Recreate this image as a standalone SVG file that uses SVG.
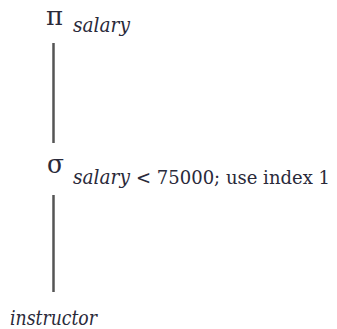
<svg xmlns="http://www.w3.org/2000/svg" width="337" height="329" viewBox="0 0 337 329">
<style>
text{font-family:"DejaVu Serif",serif;fill:#2a2a3a;}
.i{font-style:italic;font-size:20px;}
.r{font-size:18px;}
.g{font-size:26px;}
.e{stroke:#555;stroke-width:2.5;fill:none;}
</style>
<rect width="337" height="329" fill="#fff"/>
<g id="project">
<text class="g" x="46" y="25" textLength="17" lengthAdjust="spacingAndGlyphs">π</text>
<text class="i" x="73" y="32" textLength="57" lengthAdjust="spacingAndGlyphs">salary</text>
</g>
<g id="select">
<text class="g" x="47" y="173" textLength="17" lengthAdjust="spacingAndGlyphs">σ</text>
<text class="i" x="73" y="184" textLength="57" lengthAdjust="spacingAndGlyphs">salary</text>
<text class="r" x="136" y="184" textLength="194" lengthAdjust="spacingAndGlyphs">&lt; 75000; use index 1</text>
</g>
<g id="instructor">
<text class="i" x="10" y="325" textLength="87" lengthAdjust="spacingAndGlyphs">instructor</text>
</g>
<g id="edges">
<line class="e" x1="53.5" y1="43" x2="53.5" y2="143"/>
<line class="e" x1="53.5" y1="195" x2="53.5" y2="292"/>
</g>
</svg>
